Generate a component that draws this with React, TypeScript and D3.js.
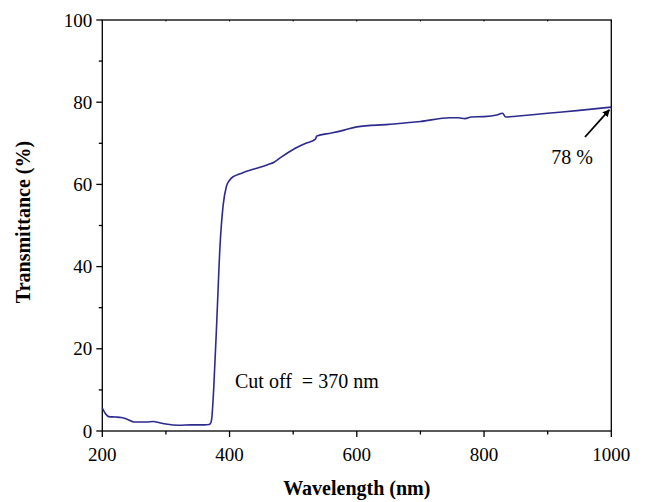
import React, { useEffect, useRef } from 'react'
import * as d3 from 'd3'

// spectrum
const wavelength = [200, 205, 210, 220, 230, 240, 250, 260, 270, 280, 290, 300, 320, 340, 360, 368, 370, 372, 375, 380, 385, 390, 395, 400, 405, 410, 420, 440, 460, 470, 480, 500, 520, 535, 537, 560, 580, 600, 650, 700, 746, 760, 770, 780, 800, 820, 829, 834, 850, 880, 900, 950, 1000]
const transmittance = [5.6, 4.2, 3.5, 3.4, 3.3, 2.8, 2.2, 2.2, 2.2, 2.3, 2.0, 1.7, 1.4, 1.5, 1.5, 1.6, 1.8, 3, 10, 27, 45, 55, 59.5, 61, 61.8, 62.2, 62.8, 63.8, 64.8, 65.4, 66.5, 68.5, 70, 71, 71.8, 72.5, 73.2, 74, 74.6, 75.3, 76.2, 76.2, 76.0, 76.4, 76.5, 76.9, 77.3, 76.4, 76.6, 77, 77.3, 78, 78.8]

const xMajor = [200, 400, 600, 800, 1000]
const xMinor = [300, 500, 700, 900]
const yMajor = [0, 20, 40, 60, 80, 100]
const yMinor = [10, 30, 50, 70, 90]

const App = () => {
  const ref = useRef<SVGSVGElement>(null)

  useEffect(() => {
    const svg = d3.select(ref.current)
    svg.selectAll('*').remove()

    const x = d3.scaleLinear().domain([200, 1000]).range([102.3, 611.3])
    const y = d3.scaleLinear().domain([0, 100]).range([431, 20])
    const font = '"Liberation Serif", "Times New Roman", serif'

    // frame
    svg.append('rect')
      .attr('x', x(200)).attr('y', y(100))
      .attr('width', x(1000) - x(200)).attr('height', y(0) - y(100))
      .attr('fill', 'none').attr('stroke', '#000').attr('stroke-width', 1.3)

    // bottom axis
    const bottom = svg.append('g').attr('transform', `translate(0, ${y(0)})`)
    bottom.selectAll('line.maj').data(xMajor).enter().append('line')
      .attr('x1', d => x(d)).attr('x2', d => x(d)).attr('y1', 0).attr('y2', 6)
      .attr('stroke', '#000').attr('stroke-width', 1.3)
    bottom.selectAll('line.min').data(xMinor).enter().append('line')
      .attr('x1', d => x(d)).attr('x2', d => x(d)).attr('y1', 0).attr('y2', 3.5)
      .attr('stroke', '#000').attr('stroke-width', 1.3)
    bottom.selectAll('text').data(xMajor).enter().append('text')
      .attr('x', d => x(d)).attr('y', 30)
      .attr('text-anchor', 'middle')
      .style('font-family', font).style('font-size', '19px')
      .text(d => d)

    // top ticks (inside)
    svg.selectAll('line.top').data([...xMajor, ...xMinor]).enter().append('line')
      .attr('x1', d => x(d)).attr('x2', d => x(d)).attr('y1', y(100)).attr('y2', y(100) + 1.5)
      .attr('stroke', '#000').attr('stroke-width', 1)

    // left axis
    const left = svg.append('g').attr('transform', `translate(${x(200)}, 0)`)
    left.selectAll('line.maj').data(yMajor).enter().append('line')
      .attr('x1', 0).attr('x2', -6).attr('y1', d => y(d)).attr('y2', d => y(d))
      .attr('stroke', '#000').attr('stroke-width', 1.3)
    left.selectAll('line.min').data(yMinor).enter().append('line')
      .attr('x1', 0).attr('x2', -3.5).attr('y1', d => y(d)).attr('y2', d => y(d))
      .attr('stroke', '#000').attr('stroke-width', 1.3)
    left.selectAll('text').data(yMajor).enter().append('text')
      .attr('x', -10).attr('y', d => y(d)).attr('dy', '0.35em')
      .attr('text-anchor', 'end')
      .style('font-family', font).style('font-size', '19px')
      .text(d => d)

    // axis titles
    svg.append('text')
      .attr('x', (x(200) + x(1000)) / 2).attr('y', 495)
      .attr('text-anchor', 'middle')
      .style('font-family', font).style('font-size', '20px').style('font-weight', 'bold')
      .text('Wavelength (nm)')
    svg.append('text')
      .attr('transform', 'rotate(-90)')
      .attr('x', -222).attr('y', 30)
      .attr('text-anchor', 'middle')
      .style('font-family', font).style('font-size', '20px').style('font-weight', 'bold')
      .text('Transmittance (%)')

    // spectrum
    const pts = wavelength.map((w, i) => [w, transmittance[i]] as [number, number])
    const line = d3.line<[number, number]>()
      .x(d => x(d[0])).y(d => y(d[1]))
      .curve(d3.curveMonotoneX)
    svg.append('path')
      .datum(pts)
      .attr('d', line)
      .attr('fill', 'none')
      .attr('stroke', '#2d2a8e')
      .attr('stroke-width', 1.6)

    // annotations
    svg.append('text')
      .attr('x', 235).attr('y', 388)
      .style('font-family', font).style('font-size', '20px')
      .attr('xml:space', 'preserve')
      .text('Cut off  = 370 nm')

    svg.append('defs').append('marker')
      .attr('id', 'arrow').attr('viewBox', '0 0 10 10')
      .attr('refX', 9).attr('refY', 5)
      .attr('markerWidth', 4).attr('markerHeight', 4)
      .attr('orient', 'auto')
      .append('path').attr('d', 'M0,0 L10,5 L0,10 z').attr('fill', '#000')
    svg.append('line')
      .attr('x1', 585).attr('y1', 137)
      .attr('x2', x(1000) - 2).attr('y2', y(78.6) + 2)
      .attr('stroke', '#000').attr('stroke-width', 1.8)
      .attr('marker-end', 'url(#arrow)')
    svg.append('text')
      .attr('x', 572).attr('y', 164)
      .attr('text-anchor', 'middle')
      .style('font-family', font).style('font-size', '20px')
      .text('78 %')
  }, [])

  return (
    <svg ref={ref} width={645} height={502} style={{ position: 'absolute', left: 0, top: 0, background: '#fff' }} />
  )
}

export default App
